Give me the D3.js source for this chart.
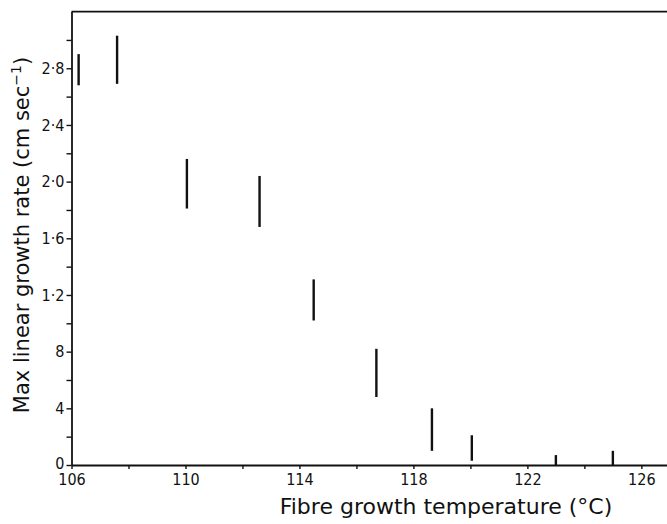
<!DOCTYPE html>
<html><head><meta charset="utf-8">
<script src="https://cdn.jsdelivr.net/npm/d3@7"></script>
<style>
html,body{margin:0;padding:0;background:#fff;}
svg{display:block;}
.tick text{font-family:"DejaVu Sans Condensed","Liberation Sans Narrow","DejaVu Sans",sans-serif;font-stretch:condensed;}
</style>
</head><body>
<script>
// Data
const temperatures = [106.25, 107.6, 110.05, 112.6, 114.5, 116.7, 118.65, 120.05, 123.0, 125.0];
const rateLow  = [2.68, 2.69, 1.81, 1.68, 1.02, 0.48, 0.10, 0.03, 0.00, 0.00];
const rateHigh = [2.90, 3.03, 2.16, 2.04, 1.31, 0.82, 0.40, 0.21, 0.07, 0.10];
const xMajorTicks = [106, 110, 114, 118, 122, 126];
const xMinorTicks = [108, 112, 116, 120, 124];
const yMajorTicks = [0, 0.4, 0.8, 1.2, 1.6, 2.0, 2.4, 2.8];
const yTickLabels = ["0", "4", "8", "1·2", "1·6", "2·0", "2·4", "2·8"];
const yMinorTicks = [0.2, 0.6, 1.0, 1.4, 1.8, 2.2, 2.6, 3.0];
const xTitle = "Fibre growth temperature (°C)";
const yTitle = "Max linear growth rate (cm sec";

const W = 667, H = 524;
const svg = d3.select("body").append("svg").attr("width", W).attr("height", H);

const x = d3.scaleLinear().domain([106, 126.9]).range([71.5, 667]);
const y = d3.scaleLinear().domain([0, 3.2]).range([465, 11.6]);

const ink = "#111";

// top border
svg.append("line").attr("x1", x(106)).attr("x2", W).attr("y1", y(3.2)).attr("y2", y(3.2))
  .attr("stroke", ink).attr("stroke-width", 1.8);

// y axis
const yAxis = svg.append("g").attr("transform", `translate(${x(106)},0)`)
  .call(d3.axisLeft(y).tickValues(yMajorTicks).tickSize(5).tickSizeOuter(0)
    .tickFormat((d, i) => yTickLabels[i]));
yAxis.select(".domain").attr("stroke", ink).attr("stroke-width", 1.8);
yAxis.selectAll(".tick line").attr("stroke", ink).attr("stroke-width", 1.4);
yAxis.selectAll(".tick text").attr("font-size", 16).attr("fill", ink).attr("x", -7);
yAxis.selectAll(".tick").filter(d => d === 0).select("text").attr("dy", "0.2em");
const yMin = svg.append("g").attr("transform", `translate(${x(106)},0)`)
  .call(d3.axisLeft(y).tickValues(yMinorTicks).tickSize(5).tickSizeOuter(0).tickFormat(""));
yMin.select(".domain").remove();
yMin.selectAll(".tick line").attr("stroke", ink).attr("stroke-width", 1.4);

// x axis
const xAxis = svg.append("g").attr("transform", `translate(0,${y(0)})`)
  .call(d3.axisBottom(x).tickValues(xMajorTicks).tickSize(4).tickSizeOuter(0));
xAxis.select(".domain").attr("stroke", ink).attr("stroke-width", 1.8);
xAxis.selectAll(".tick line").attr("stroke", ink).attr("stroke-width", 1.4);
xAxis.selectAll(".tick text").attr("font-size", 16).attr("fill", ink).attr("y", 9);
const xMin = svg.append("g").attr("transform", `translate(0,${y(0)})`)
  .call(d3.axisBottom(x).tickValues(xMinorTicks).tickSize(4).tickSizeOuter(0).tickFormat(""));
xMin.select(".domain").remove();
xMin.selectAll(".tick line").attr("stroke", ink).attr("stroke-width", 1.4);

// range bars
svg.append("g").selectAll("line").data(temperatures).join("line")
  .attr("x1", d => x(d)).attr("x2", d => x(d))
  .attr("y1", (d, i) => y(rateLow[i])).attr("y2", (d, i) => y(rateHigh[i]))
  .attr("stroke", ink).attr("stroke-width", 2.4);

// titles
svg.append("text").attr("x", 446).attr("y", 514).attr("text-anchor", "middle")
  .attr("font-family", "'DejaVu Sans', sans-serif").attr("font-size", 22).attr("fill", ink)
  .text(xTitle);
const yt = svg.append("text").attr("transform", `translate(29,235) rotate(-90)`)
  .attr("text-anchor", "middle")
  .attr("font-family", "'DejaVu Sans', sans-serif").attr("font-size", 21).attr("fill", ink);
yt.append("tspan").text(yTitle);
yt.append("tspan").attr("dy", -8).attr("font-size", 14).text("−1");
yt.append("tspan").attr("dy", 8).text(")");
</script>
</body></html>
